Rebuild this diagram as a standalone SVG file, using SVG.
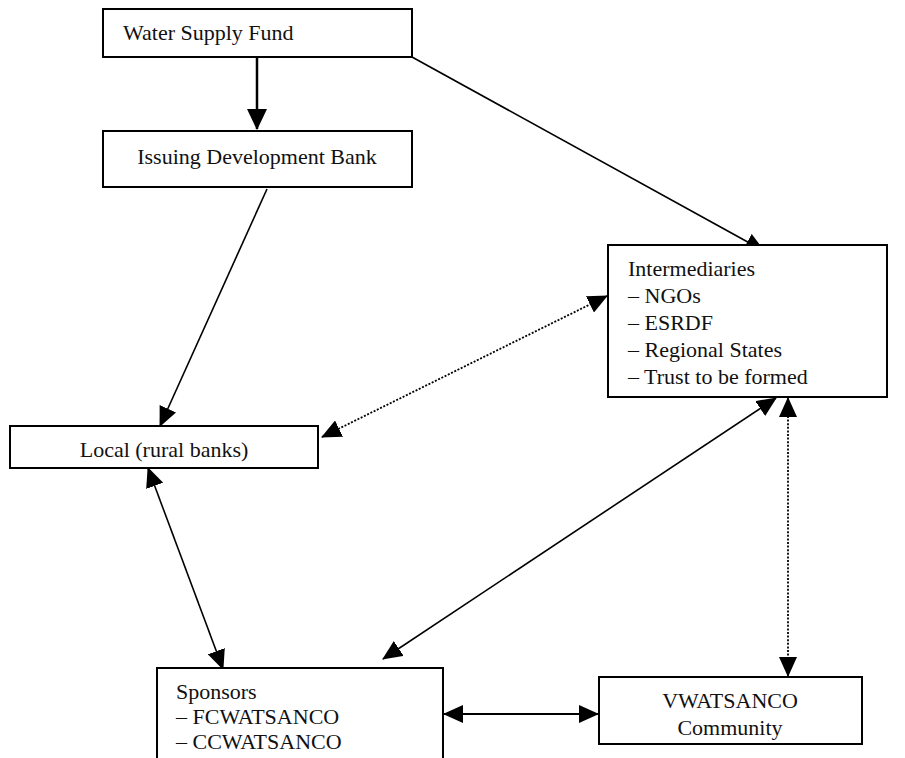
<svg xmlns="http://www.w3.org/2000/svg" width="905" height="758" viewBox="0 0 905 758">
<style>
text{font-family:"Liberation Serif","Times New Roman",serif;font-size:22px;fill:#111}
.box{fill:#fff;stroke:#000;stroke-width:2}
.ln{fill:none;stroke:#000;stroke-width:1.6}
.dot{fill:none;stroke:#000;stroke-width:1.8;stroke-dasharray:2 1.6}
.c{text-anchor:middle}
</style>
<defs>
<marker id="ah" markerUnits="userSpaceOnUse" markerWidth="20" markerHeight="18" viewBox="0 0 20 18" refX="19" refY="9" orient="auto-start-reverse">
<path d="M0,0 L20,9 L0,18 z" fill="#000"/>
</marker>
<marker id="ahb" markerUnits="userSpaceOnUse" markerWidth="21" markerHeight="20" viewBox="0 0 21 20" refX="20" refY="10" orient="auto">
<path d="M0,0 L21,10 L0,20 z" fill="#000"/>
</marker>
</defs>
<g id="connectors">
<line x1="257" y1="57" x2="257" y2="129" class="ln" style="stroke-width:2.5" marker-end="url(#ahb)"/>
<line x1="412" y1="57" x2="764" y2="251" class="ln" marker-end="url(#ah)"/>
<line x1="267" y1="189" x2="160" y2="426" class="ln" marker-end="url(#ah)"/>
<line x1="322" y1="437" x2="607" y2="296" class="dot" marker-start="url(#ah)" marker-end="url(#ah)"/>
<line x1="148" y1="468" x2="223" y2="669" class="ln" marker-start="url(#ah)" marker-end="url(#ah)"/>
<line x1="383" y1="659" x2="776" y2="398" class="ln" marker-start="url(#ah)" marker-end="url(#ah)"/>
<line x1="788" y1="398" x2="788" y2="676" class="dot" marker-start="url(#ah)" marker-end="url(#ah)"/>
<line x1="444" y1="714" x2="598" y2="714" class="ln" style="stroke-width:2" marker-start="url(#ah)" marker-end="url(#ah)"/>
</g>
<g id="water-supply-fund">
<rect x="103" y="9" width="309" height="48" class="box"/>
<text x="123" y="40">Water Supply Fund</text>
</g>
<g id="issuing-development-bank">
<rect x="103" y="131" width="309" height="56" class="box"/>
<text x="257" y="164" class="c">Issuing Development Bank</text>
</g>
<g id="intermediaries">
<rect x="608" y="245" width="279" height="152" class="box"/>
<text x="628" y="276">Intermediaries</text>
<text x="628" y="303">– NGOs</text>
<text x="628" y="330">– ESRDF</text>
<text x="628" y="357">– Regional States</text>
<text x="628" y="384">– Trust to be formed</text>
</g>
<g id="local-rural-banks">
<rect x="10" y="426" width="308" height="42" class="box"/>
<text x="164" y="457" class="c">Local (rural banks)</text>
</g>
<g id="sponsors">
<rect x="157" y="668" width="286" height="100" class="box"/>
<text x="176" y="699">Sponsors</text>
<text x="176" y="724">– FCWATSANCO</text>
<text x="176" y="749">– CCWATSANCO</text>
</g>
<g id="vwatsanco-community">
<rect x="599" y="677" width="263" height="67" class="box"/>
<text x="730" y="708" class="c">VWATSANCO</text>
<text x="730" y="735" class="c">Community</text>
</g>
</svg>
